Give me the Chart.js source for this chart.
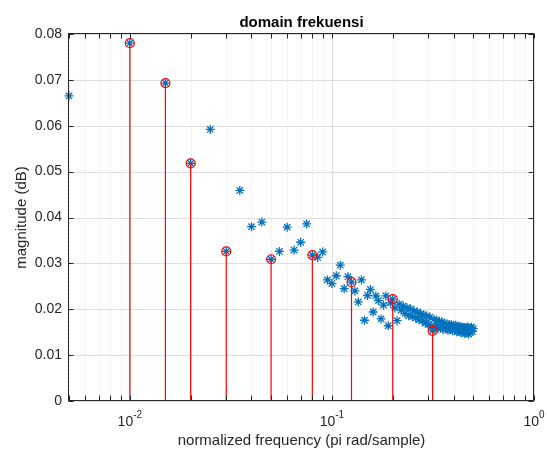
<!DOCTYPE html>
<html>
<head>
<meta charset="utf-8">
<script src="https://cdn.jsdelivr.net/npm/chart.js@4.4.1/dist/chart.umd.min.js"></script>
<style>
  html, body { margin: 0; padding: 0; background: #fff; }
  canvas { display: block; }
</style>
</head>
<body>
<canvas id="spectrumChart" width="547" height="450"></canvas>
<script>
// normalized frequency bins (pi rad/sample)
const freqs = [
  0.005, 0.010, 0.015, 0.020, 0.025, 0.030, 0.035, 0.040, 0.045, 0.050,
  0.055, 0.060, 0.065, 0.070, 0.075, 0.080, 0.085, 0.090, 0.095, 0.100,
  0.105, 0.110, 0.115, 0.120, 0.125, 0.130, 0.135, 0.140, 0.145, 0.150,
  0.155, 0.160, 0.165, 0.170, 0.175, 0.180, 0.185, 0.190, 0.195, 0.200,
  0.205, 0.210, 0.215, 0.220, 0.225, 0.230, 0.235, 0.240, 0.245, 0.250,
  0.255, 0.260, 0.265, 0.270, 0.275, 0.280, 0.285, 0.290, 0.295, 0.300,
  0.305, 0.310, 0.315, 0.320, 0.325, 0.330, 0.335, 0.340, 0.345, 0.350,
  0.355, 0.360, 0.365, 0.370, 0.375, 0.380, 0.385, 0.390, 0.395, 0.400,
  0.405, 0.410, 0.415, 0.420, 0.425, 0.430, 0.435, 0.440, 0.445, 0.450,
  0.455, 0.460, 0.465, 0.470, 0.475, 0.480, 0.485, 0.490, 0.495, 0.500
];
const magnitude = [
  0.0665, 0.0780, 0.0693, 0.0518, 0.0592, 0.0326, 0.0459, 0.0380, 0.0390, 0.0309,
  0.0326, 0.0379, 0.0329, 0.0346, 0.0386, 0.0318, 0.0313, 0.0325, 0.0264, 0.0256,
  0.0273, 0.0296, 0.0245, 0.0271, 0.0259, 0.0240, 0.0216, 0.0264, 0.0176, 0.0230,
  0.0243, 0.0194, 0.0229, 0.0219, 0.0179, 0.0209, 0.0229, 0.0164, 0.0214, 0.0222,
  0.0203, 0.0175, 0.0211, 0.0198, 0.0207, 0.0191, 0.0203, 0.0186, 0.0201, 0.0184,
  0.0196, 0.0181, 0.0194, 0.0177, 0.0190, 0.0175, 0.0188, 0.0170, 0.0185, 0.0167,
  0.0183, 0.0161, 0.0153, 0.0178, 0.0162, 0.0176, 0.0158, 0.0174, 0.0160, 0.0172,
  0.0156, 0.0170, 0.0158, 0.0168, 0.0154, 0.0166, 0.0156, 0.0167, 0.0153, 0.0164,
  0.0155, 0.0165, 0.0151, 0.0162, 0.0152, 0.0163, 0.0149, 0.0161, 0.0150, 0.0160,
  0.0147, 0.0160, 0.0149, 0.0162, 0.0146, 0.0158, 0.0150, 0.0161, 0.0152, 0.0158
];

// picked bins shown as stems
const peakFreqs = [0.010, 0.015, 0.020, 0.030, 0.050, 0.080, 0.125, 0.200, 0.315];
const peakMagnitude = [0.0780, 0.0693, 0.0518, 0.0326, 0.0309, 0.0318, 0.0259, 0.0222, 0.0153];

const yTicks = [0, 0.01, 0.02, 0.03, 0.04, 0.05, 0.06, 0.07, 0.08];
const yTickLabels = ['0', '0.01', '0.02', '0.03', '0.04', '0.05', '0.06', '0.07', '0.08'];
const xTicks = [0.01, 0.1, 1];
const xTickBase = ['10', '10', '10'];
const xTickExp = ['-2', '-1', '0'];

const FONT = '"Liberation Sans", Arial, Helvetica, sans-serif';
const AXIS_COLOR = '#262626';

// minor decade ticks 2..9 for the log axis
const xMinor = [];
[0.001, 0.01, 0.1].forEach(d => {
  for (let m = 2; m <= 9; m++) {
    const v = +(m * d).toFixed(4);
    if (v >= 0.005 && v < 1) xMinor.push(v);
  }
});

function seg(ctx, x1, y1, x2, y2) {
  ctx.beginPath();
  ctx.moveTo(x1, y1);
  ctx.lineTo(x2, y2);
  ctx.stroke();
}
const crisp = v => Math.round(v) + 0.5;

const matlabAxes = {
  id: 'matlabAxes',
  beforeDatasetsDraw(chart) {
    const { ctx, chartArea: a, scales: { x, y } } = chart;
    ctx.save();
    ctx.lineWidth = 1;

    ctx.strokeStyle = '#dadada';
    ctx.setLineDash([1, 3]);
    xMinor.forEach(v => {
      const px = crisp(x.getPixelForValue(v));
      seg(ctx, px, a.top, px, a.bottom);
    });
    ctx.setLineDash([]);

    ctx.strokeStyle = '#dedede';
    xTicks.forEach(v => {
      const px = crisp(x.getPixelForValue(v));
      seg(ctx, px, a.top, px, a.bottom);
    });
    yTicks.forEach(v => {
      const py = crisp(y.getPixelForValue(v));
      seg(ctx, a.left, py, a.right, py);
    });
    ctx.restore();
  },
  afterDatasetsDraw(chart) {
    const { ctx, chartArea: a, scales: { x, y } } = chart;
    const L = crisp(a.left) - 1, R = crisp(a.right) - 1;
    const T = crisp(a.top) - 1, B = crisp(a.bottom) - 1;
    const tick = 5;
    ctx.save();
    ctx.strokeStyle = AXIS_COLOR;
    ctx.lineWidth = 1;
    ctx.strokeRect(L, T, R - L, B - T);

    // inward ticks
    xMinor.concat(xTicks).forEach(v => {
      const px = crisp(x.getPixelForValue(v));
      seg(ctx, px, B, px, B - tick);
      seg(ctx, px, T, px, T + tick);
    });
    yTicks.forEach(v => {
      const py = crisp(y.getPixelForValue(v));
      seg(ctx, L, py, L + tick, py);
      seg(ctx, R, py, R - tick, py);
    });

    ctx.fillStyle = AXIS_COLOR;

    // y tick labels
    ctx.font = '14px ' + FONT;
    ctx.textAlign = 'right';
    ctx.textBaseline = 'middle';
    yTicks.forEach((v, i) => {
      ctx.fillText(yTickLabels[i], a.left - 7, y.getPixelForValue(v));
    });

    // x tick labels with superscript exponents
    ctx.textAlign = 'left';
    ctx.textBaseline = 'alphabetic';
    xTicks.forEach((v, i) => {
      ctx.font = '14px ' + FONT;
      const wb = ctx.measureText(xTickBase[i]).width;
      ctx.font = '10px ' + FONT;
      const we = ctx.measureText(xTickExp[i]).width;
      const left = x.getPixelForValue(v) - (wb + we) / 2;
      ctx.font = '14px ' + FONT;
      ctx.fillText(xTickBase[i], left, 426);
      ctx.font = '10px ' + FONT;
      ctx.fillText(xTickExp[i], left + wb, 418);
    });

    // axis titles
    const cx = (a.left + a.right) / 2;
    const cy = (a.top + a.bottom) / 2;
    ctx.font = '15px ' + FONT;
    ctx.textAlign = 'center';
    ctx.fillText('normalized frequency (pi rad/sample)', cx, 445);
    ctx.save();
    ctx.translate(26, cy);
    ctx.rotate(-Math.PI / 2);
    ctx.fillText('magnitude (dB)', 0, 0);
    ctx.restore();

    ctx.fillStyle = '#000';
    ctx.font = 'bold 15px ' + FONT;
    ctx.fillText('domain frekuensi', cx, 27);
    ctx.restore();
  }
};

const stemPoints = [];
peakFreqs.forEach((f, i) => {
  stemPoints.push({ x: f, y: 0 }, { x: f, y: peakMagnitude[i] }, { x: f, y: null });
});

new Chart(document.getElementById('spectrumChart'), {
  type: 'scatter',
  data: {
    datasets: [
      {
        label: 'stems',
        data: stemPoints,
        showLine: true,
        spanGaps: false,
        borderColor: '#ff0000',
        borderWidth: 1.2,
        pointRadius: 0,
        order: 1
      },
      {
        label: 'peaks',
        data: peakFreqs.map((f, i) => ({ x: f, y: peakMagnitude[i] })),
        pointStyle: 'circle',
        pointRadius: 4.5,
        borderColor: '#ff0000',
        backgroundColor: 'rgba(0,0,0,0)',
        borderWidth: 1.2,
        clip: false,
        order: 0
      },
      {
        label: 'spectrum',
        data: freqs.map((f, i) => ({ x: f, y: magnitude[i] })),
        pointStyle: 'star',
        pointRadius: 4.5,
        borderColor: '#0072bd',
        backgroundColor: '#0072bd',
        borderWidth: 1.3,
        clip: false,
        order: 2
      }
    ]
  },
  options: {
    responsive: false,
    animation: false,
    devicePixelRatio: 1,
    layout: { padding: { left: 69, right: 13, top: 34, bottom: 49 } },
    plugins: { legend: { display: false }, tooltip: { enabled: false } },
    scales: {
      x: { type: 'logarithmic', min: 0.005, max: 1, display: false },
      y: { type: 'linear', min: 0, max: 0.08, display: false }
    }
  },
  plugins: [matlabAxes]
});
</script>
</body>
</html>
